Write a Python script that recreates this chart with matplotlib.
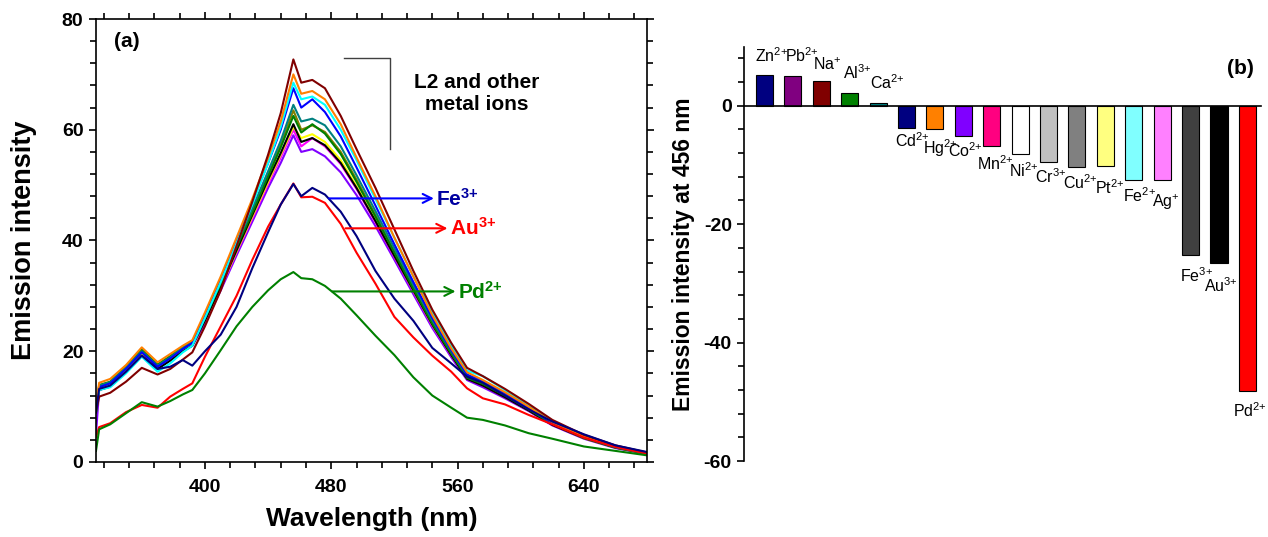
import matplotlib
matplotlib.use("Agg")
import matplotlib.pyplot as plt
from matplotlib.ticker import MultipleLocator

plt.rcParams['font.family'] = ['Liberation Sans', 'DejaVu Sans']
plt.rcParams['mathtext.fontset'] = 'custom'
plt.rcParams['mathtext.rm'] = 'Liberation Sans'
plt.rcParams['mathtext.bf'] = 'Liberation Sans:bold'
plt.rcParams['mathtext.default'] = 'rm'
plt.rcParams['axes.unicode_minus'] = False

# ---- panel (a): emission spectra ----
wl = [331, 333, 340, 350, 360, 370, 378, 386, 392, 400, 410, 420, 430, 440, 448, 456, 461,
      468, 476, 486, 496, 508, 520, 532, 544, 556, 566, 576, 590, 605, 620, 640, 660, 680]

int_brown = [9, 11.8, 12.5, 14.5, 17.0, 15.8, 16.8, 18.5, 19.8, 24.5, 31, 39, 47, 55.5, 63, 72.7, 68.5,
             69, 67.5, 62.5, 56.5, 49.5, 42, 34.5, 27.5, 21.5, 17, 15.5, 13.2, 10.5, 7.6, 4.9, 3.0, 1.7]
int_orange = [10, 14.3, 15, 17.5, 20.7, 18, 19.5, 21, 22, 27, 33.5, 40.5, 47.5, 55, 61.5, 70, 66.5,
              67, 65.5, 61, 55, 48, 40.5, 33.5, 26.5, 20.5, 16.2, 14.8, 12.6, 10, 7.2, 4.6, 2.8, 1.6]
int_cyan = [9, 13, 13.5, 16, 19, 16.3, 17.8, 19.8, 21, 26, 32.5, 39.5, 46.5, 54, 60.5, 68.5, 65.5,
            66, 64.5, 60, 54.5, 47.5, 40.5, 33.5, 27, 21, 16.5, 15.5, 13, 10.2, 7.3, 4.7, 2.9, 1.7]
int_blue = [9, 13.5, 14.2, 16.8, 19.8, 17.2, 18.7, 20.4, 21.5, 26.5, 33, 40, 47, 54, 60, 67.5, 64,
            65.5, 63.2, 58.8, 53.2, 46.3, 39.3, 32.5, 26, 20.2, 15.8, 14.6, 12.4, 9.8, 7, 4.5, 2.7, 1.6]
int_teal = [9, 13.8, 14.4, 17, 20, 17.4, 18.9, 20.6, 21.6, 26.3, 32.6, 39.2, 45.8, 52.5, 58, 64.5, 61.5,
            62, 60.8, 57, 51.8, 45.3, 38.6, 32, 25.6, 20, 15.6, 14.4, 12.3, 9.7, 7, 4.5, 2.7, 1.6]
int_olive = [9, 13.6, 14.3, 17, 20.2, 17.5, 19, 20.7, 21.7, 26.2, 32.4, 39, 45.4, 52, 57.3, 63.5, 60,
             60.8, 59.6, 56, 51, 44.6, 38, 31.5, 25.2, 19.7, 15.3, 14.2, 12.1, 9.6, 6.9, 4.4, 2.7, 1.6]
int_green = [9, 13.9, 14.5, 17.2, 20.3, 17.6, 19.1, 20.8, 21.8, 26, 32.2, 38.8, 45, 51.6, 56.8, 62.5, 59.5,
             61, 59.3, 55.6, 50.6, 44.3, 37.8, 31.3, 25, 19.6, 15.2, 14.1, 12, 9.5, 6.9, 4.4, 2.6, 1.5]
int_black = [9, 13, 13.6, 16.2, 19.2, 16.8, 18.3, 20, 21, 25.5, 31.7, 38.2, 44.6, 51, 55.8, 61, 57.8,
             58.5, 57.2, 54, 49.5, 43.5, 37.2, 31, 24.8, 19.3, 15, 13.8, 11.7, 9.3, 6.7, 4.3, 2.6, 1.5]
int_yellow = [9, 13.4, 14, 16.6, 19.6, 17.1, 18.6, 20.3, 21.3, 25.6, 31.6, 38, 44.3, 50.6, 55.5, 60.5, 58.5,
              59.2, 57.8, 54.5, 49.8, 43.7, 37.3, 31, 24.8, 19.4, 15.1, 13.9, 11.8, 9.4, 6.8, 4.3, 2.6, 1.5]
int_magenta = [9, 13.3, 13.9, 16.5, 19.5, 17, 18.5, 20.2, 21.2, 25.4, 31.4, 37.8, 44, 50.2, 55, 60, 57,
               58.5, 57, 53.8, 49.3, 43.3, 37, 30.8, 24.6, 19.2, 15, 13.8, 11.7, 9.3, 6.7, 4.3, 2.6, 1.5]
int_violet = [5, 13, 13.7, 16.3, 19.5, 16.9, 18.4, 20, 21, 25, 31, 37.3, 43.4, 49.5, 54, 59, 56,
              56.5, 55.2, 52.3, 48.2, 42.6, 36.5, 30.3, 24.2, 18.9, 14.8, 13.5, 11.5, 9.2, 6.6, 4.2, 2.5, 1.4]
int_fe3 = [9, 13.2, 13.8, 16.3, 19.2, 16.8, 17.2, 18.4, 17.4, 20, 23, 28, 35, 41.5, 46.5, 50.2, 48,
           49.5, 48.3, 45.2, 40.8, 34.5, 29.5, 25.5, 20.6, 17.8, 15.4, 14.3, 12, 9.5, 7.3, 5, 3, 1.8]
int_au3 = [4.5, 6.3, 7, 9, 10.3, 9.8, 11.8, 13.2, 14.2, 19, 24.5, 30, 36.5, 42.5, 46.5, 50.3, 47.8,
           47.9, 46.8, 43, 37.8, 32.2, 26.2, 22.5, 19.2, 16.3, 13.3, 11.5, 10.4, 8.5, 6.8, 4.4, 2.7, 1.5]
int_pd2 = [2, 5.9, 6.8, 8.8, 10.8, 10, 11, 12.2, 13, 16, 20.2, 24.5, 28, 31, 33, 34.3, 33.2,
           33, 31.8, 29.5, 26.5, 22.8, 19.3, 15.3, 12, 9.8, 8, 7.6, 6.6, 5.2, 4.2, 2.8, 2, 1.2]

spectra = [
    (int_violet, '#8000FF'), (int_magenta, '#FF00FF'), (int_yellow, '#FFFF00'),
    (int_black, '#000000'), (int_olive, '#808000'), (int_green, '#008000'),
    (int_teal, '#008080'), (int_blue, '#0000FF'), (int_cyan, '#00FFFF'),
    (int_orange, '#FF8000'), (int_brown, '#800000'),
    (int_au3, '#FF0000'), (int_fe3, '#000080'), (int_pd2, '#008000'),
]

# ---- panel (b): change of emission at 456 nm ----
ions = ['Zn', 'Pb', 'Na', 'Al', 'Ca', 'Cd', 'Hg', 'Co', 'Mn', 'Ni', 'Cr', 'Cu', 'Pt',
        'Fe', 'Ag', 'Fe', 'Au', 'Pd']
charges = ['2+', '2+', '+', '3+', '2+', '2+', '2+', '2+', '2+', '2+', '3+', '2+', '2+',
           '2+', '+', '3+', '3+', '2+']
delta_456 = [5.2, 5.0, 4.1, 2.1, 0.5, -3.8, -3.9, -5.1, -6.8, -8.1, -9.5, -10.4, -10.2,
             -12.6, -12.6, -25.2, -26.6, -48.2]
bar_colors = ['#000080', '#800080', '#800000', '#008000', '#008080', '#000080', '#FF8000',
              '#8000FF', '#FF0080', '#FFFFFF', '#C0C0C0', '#808080', '#FFFF80', '#80FFFF',
              '#FF80FF', '#404040', '#000000', '#FF0000']

# where the ion labels sit (layout only): baseline height and shift right of bar centre
label_y = [7.4, 7.3, 6.0, 4.5, 2.9, -6.9, -8.1, -8.6, -10.9, -12.0, -13.0, -14.0, -14.9,
           -16.2, -17.1, -29.7, -31.4, -52.6]
label_dx = [0.24, 0.31, 0.22, 0.27, 0.32, 0.22, 0.18, 0.08, 0.14, 0.12, 0.08, 0.12, 0.15,
            0.2, 0.12, 0.2, 0.07, 0.08]


def sup(charge):
    # braces keep mathtext from spacing "+" as a binary operator
    return charge.replace('+', '{+}')


fig = plt.figure(figsize=(12.68, 5.37), dpi=100)

# panel (a)
ax1 = fig.add_axes([0.0757, 0.1397, 0.4346, 0.8249])
for y, c in spectra:
    ax1.plot(wl, y, color=c, lw=1.5)

ax1.set_xlim(331, 680)
ax1.set_ylim(0, 80)
ax1.xaxis.set_major_locator(MultipleLocator(80))
ax1.xaxis.set_minor_locator(MultipleLocator(16))
ax1.yaxis.set_major_locator(MultipleLocator(20))
ax1.yaxis.set_minor_locator(MultipleLocator(4))
ax1.tick_params(which='both', direction='out', top=True, right=True, width=1.2)
ax1.tick_params(which='major', length=5, labelsize=14)
ax1.tick_params(axis='x', which='major', pad=7)
ax1.tick_params(axis='y', which='major', pad=4)
ax1.tick_params(which='minor', length=4)
for lab in ax1.get_xticklabels() + ax1.get_yticklabels():
    lab.set_fontweight('bold')
for s in ax1.spines.values():
    s.set_linewidth(1.2)
ax1.set_xlabel('Wavelength (nm)', fontsize=19, fontweight='bold', labelpad=8)
ax1.set_ylabel('Emission intensity', fontsize=19.5, fontweight='bold', labelpad=18)

ax1.text(0.056, 0.949, '(a)', transform=ax1.transAxes, fontsize=15, fontweight='bold',
         ha='center', va='center')
ax1.plot([488, 517, 517], [73, 73, 56.5], color='#404040', lw=1)
ax1.text(572, 66.6, 'L2 and other\nmetal ions', fontsize=15, fontweight='bold',
         ha='center', va='center', linespacing=1.2)

arrows = [
    ('Fe', '3+', 478.6, 545.0, 47.6, '#0000FF', '#0000A0'),
    ('Au', '3+', 489.0, 553.6, 42.2, '#FF0000', '#FF0000'),
    ('Pd', '2+', 480.7, 558.7, 30.8, '#008000', '#008000'),
]
for ion, ch, x0, x1, yv, acol, tcol in arrows:
    ax1.annotate('', xy=(x1, yv), xytext=(x0, yv),
                 arrowprops=dict(arrowstyle='->', color=acol, lw=1.5, mutation_scale=16,
                                 shrinkA=0, shrinkB=0))
    ax1.text(x1 + 1.5, yv, ion + r'$^{\mathbf{' + sup(ch) + '}}$', color=tcol, fontsize=15,
             fontweight='bold', ha='left', va='center')

# panel (b)
ax2 = fig.add_axes([0.587, 0.1415, 0.4075, 0.7719])
pos = list(range(len(ions)))
ax2.bar(pos, delta_456, width=0.6, color=bar_colors, edgecolor='black', linewidth=0.8)

ax2.set_xlim(-0.71, 17.48)
ax2.set_ylim(-60, 10)
ax2.spines['top'].set_visible(False)
ax2.spines['right'].set_visible(False)
ax2.spines['bottom'].set_position(('data', 0))
ax2.spines['bottom'].set_linewidth(1.2)
ax2.spines['left'].set_linewidth(1.2)
ax2.set_xticks([])
ax2.yaxis.set_major_locator(MultipleLocator(20))
ax2.yaxis.set_minor_locator(MultipleLocator(4))
ax2.tick_params(which='both', direction='out', width=1.2)
ax2.tick_params(which='major', length=5, labelsize=14, pad=4)
ax2.tick_params(which='minor', length=4)
for lab in ax2.get_yticklabels():
    lab.set_fontweight('bold')
ax2.set_ylabel('Emission intensity at 456 nm', fontsize=16.5, fontweight='bold', labelpad=6)

for i, (ion, ch) in enumerate(zip(ions, charges)):
    ax2.text(i + label_dx[i], label_y[i], ion + '$^{' + sup(ch) + '}$',
             ha='center', va='baseline', fontsize=11.5)

ax2.text(0.961, 0.947, '(b)', transform=ax2.transAxes, fontsize=15, fontweight='bold',
         ha='center', va='center')

fig.savefig('out.png', dpi=100)
